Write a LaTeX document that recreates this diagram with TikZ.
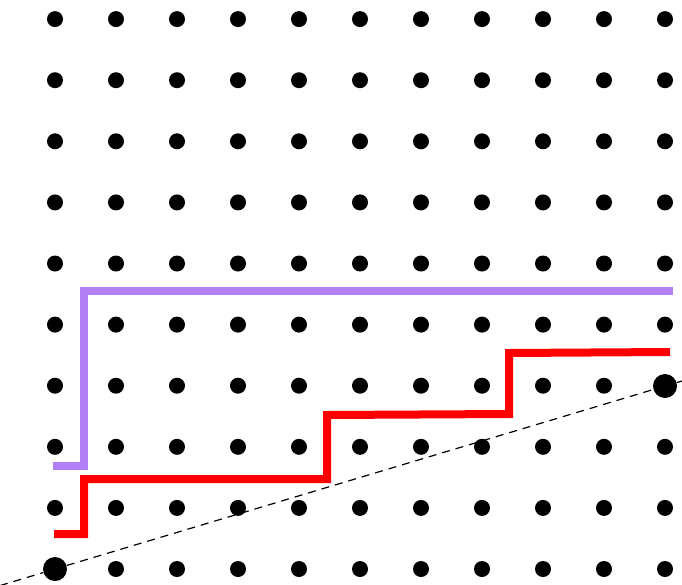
\documentclass[tikz,border=0pt]{standalone}
\begin{document}
\begin{tikzpicture}[x=1pt,y=-1pt,
  dot/.style={circle,fill=black,inner sep=0pt,minimum size=16pt},
  bigdot/.style={circle,fill=black,inner sep=0pt,minimum size=24pt},
  redpath/.style={draw={rgb,255:red,255;green,0;blue,0},line width=8pt},
  purplepath/.style={draw={rgb,255:red,177;green,128;blue,245},line width=7.5pt},
  diag/.style={draw=black,line width=1.2pt,dash pattern=on 8pt off 6pt}]
\useasboundingbox (0,0) rectangle (682,584);
\foreach \i in {0,...,10}{
  \foreach \j in {0,...,9}{
    \node[dot] (d\i-\j) at ({55+61*\i},{569-61.1*\j}) {};
  }
}
\node[bigdot] (A) at (55,569) {};
\node[bigdot] (B) at (665,386) {};
\coordinate (L) at (0,585.6);
\coordinate (R) at (682,381);
\draw[diag] (L) -- (A) -- (B) -- (R);
\draw[purplepath] (53,466) -- (84,466) -- (84,291) -- (673,291);
\draw[redpath] (54,534) -- (84,534) -- (84,479) -- (327,479) -- (327,415) -- (509,414) -- (509,353) -- (670,352);
\end{tikzpicture}
\end{document}
